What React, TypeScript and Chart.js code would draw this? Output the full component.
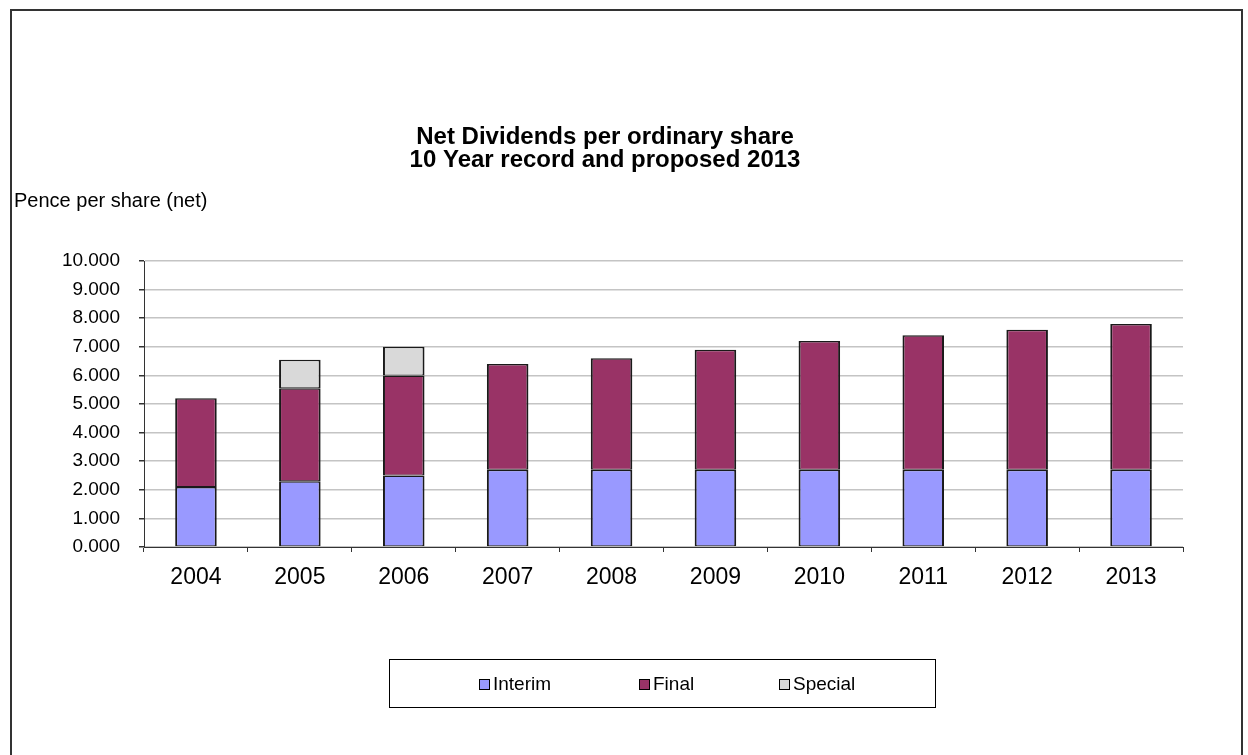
import React, { useEffect, useRef } from 'react';
import { Chart, registerables } from 'chart.js';

Chart.register(...registerables);

const FONT = "'Liberation Sans', Arial, Helvetica, sans-serif";

const years = ['2004', '2005', '2006', '2007', '2008', '2009', '2010', '2011', '2012', '2013'];
const interimValues = [2.1, 2.3, 2.5, 2.7, 2.7, 2.7, 2.7, 2.7, 2.7, 2.7];
const finalValues = [3.1, 3.25, 3.5, 3.7, 3.9, 4.2, 4.5, 4.7, 4.9, 5.1];
const specialValues = [null, 1.0, 1.0, null, null, null, null, null, null, null];
const seriesNames = ['Interim', 'Final', 'Special'];
const seriesColors = ['#9999FF', '#993366', '#D9D9D9'];
const titleLines = ['Net Dividends per ordinary share', '10 Year record and proposed 2013'];
const yAxisLabel = 'Pence per share (net)';
const yMin = 0;
const yMax = 10;
const yStep = 1;

const decorPlugin = {
  id: 'decor',
  beforeDraw(chart: any) {
    const ctx = chart.ctx;
    ctx.save();
    ctx.fillStyle = '#ffffff';
    ctx.fillRect(0, 0, chart.width, chart.height);
    ctx.restore();
  },
  afterDraw(chart: any) {
    const ctx = chart.ctx;
    ctx.save();
    // outer frame
    ctx.strokeStyle = '#333333';
    ctx.lineWidth = 2;
    ctx.strokeRect(11, 10, 1231, 800);

    // title
    ctx.fillStyle = '#000000';
    ctx.font = `bold 24px ${FONT}`;
    ctx.textAlign = 'center';
    ctx.textBaseline = 'alphabetic';
    ctx.fillText(titleLines[0], 605, 144);
    ctx.fillText(titleLines[1], 605, 167);

    // y axis label
    ctx.font = `20px ${FONT}`;
    ctx.textAlign = 'left';
    ctx.fillText(yAxisLabel, 14, 207);

    // legend
    ctx.strokeStyle = '#000000';
    ctx.lineWidth = 1;
    ctx.strokeRect(389.5, 659.5, 546, 48);
    const boxX = [479, 639, 779];
    ctx.font = `19px ${FONT}`;
    chart.data.datasets.forEach((ds: any, i: number) => {
      const x = boxX[i];
      ctx.fillStyle = ds.backgroundColor;
      ctx.fillRect(x + 0.5, 679.5, 10, 10);
      ctx.strokeStyle = '#000000';
      ctx.strokeRect(x + 0.5, 679.5, 10, 10);
      ctx.fillStyle = '#000000';
      ctx.textAlign = 'left';
      ctx.fillText(ds.label, x + 14, 690);
    });
    ctx.restore();
  },
};

export default function App() {
  const canvasRef = useRef<HTMLCanvasElement | null>(null);

  useEffect(() => {
    if (!canvasRef.current) return;
    Chart.defaults.font.family = FONT;
    const values = [interimValues, finalValues, specialValues];
    const chart = new Chart(canvasRef.current, {
      type: 'bar',
      data: {
        labels: years,
        datasets: values.map((v, i) => ({
          label: seriesNames[i],
          data: v as any,
          backgroundColor: seriesColors[i],
          borderColor: '#1a1a1a',
          borderWidth: { top: 1.5, right: 2, bottom: 1, left: 2 },
          borderSkipped: false,
          barPercentage: 0.4,
          categoryPercentage: 1,
        })),
      },
      options: {
        responsive: false,
        animation: false,
        layout: { padding: { top: 261, left: 0, right: 65, bottom: 0 } },
        plugins: {
          legend: { display: false },
          title: { display: false },
          tooltip: { enabled: false },
        },
        scales: {
          x: {
            stacked: true,
            grid: {
              drawOnChartArea: false,
              drawTicks: true,
              tickLength: 5,
              tickColor: '#333333',
              offset: true,
            },
            border: { color: '#333333', width: 1 },
            ticks: {
              font: { size: 23 },
              color: '#000000',
              padding: 12,
              maxRotation: 0,
              autoSkip: false,
            },
            afterFit: (s: any) => {
              s.height = 208;
            },
          },
          y: {
            stacked: true,
            min: yMin,
            max: yMax,
            ticks: {
              stepSize: yStep,
              font: { size: 19 },
              color: '#000000',
              padding: 19,
              callback: (v: any) => Number(v).toFixed(3),
            },
            grid: {
              color: '#c4c4c4',
              lineWidth: 1.5,
              tickColor: '#333333',
              tickLength: 5,
            },
            border: { color: '#333333', width: 1 },
            afterFit: (s: any) => {
              s.width = 144;
            },
          },
        },
      },
      plugins: [decorPlugin],
    });
    return () => chart.destroy();
  }, []);

  return (
    <div style={{ position: 'absolute', left: 0, top: 0, width: 1248, height: 755 }}>
      <canvas ref={canvasRef} width={1248} height={755} style={{ display: 'block' }} />
    </div>
  );
}
